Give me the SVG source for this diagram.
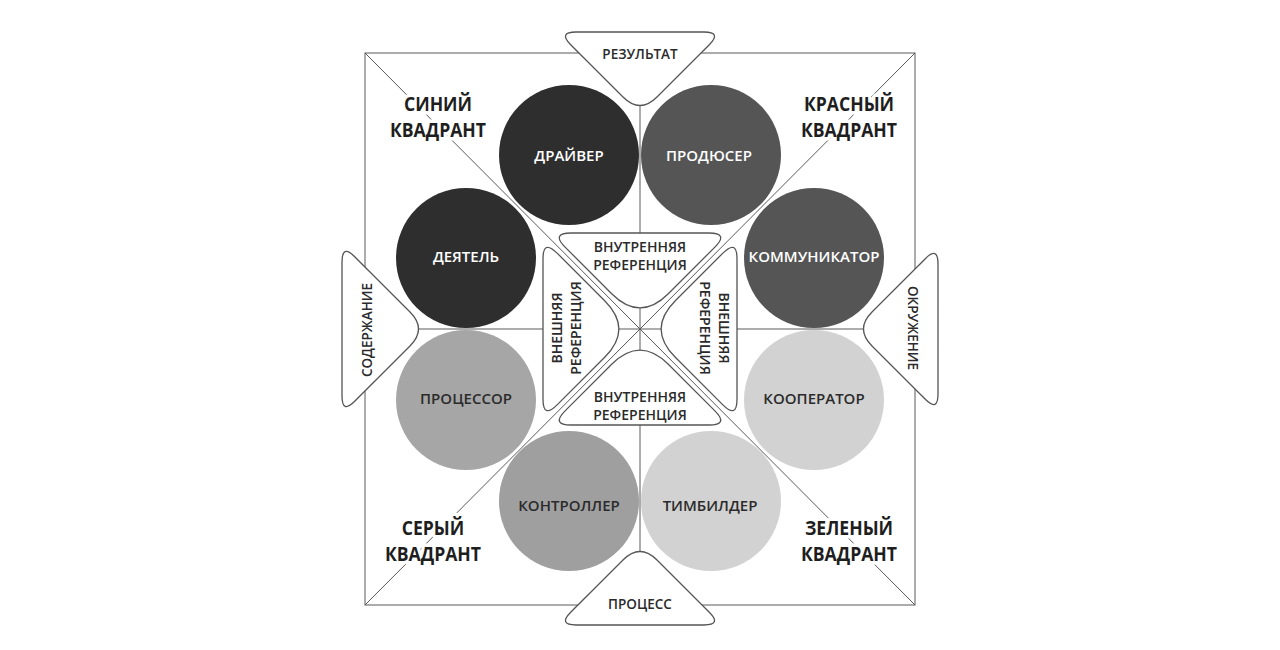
<svg xmlns="http://www.w3.org/2000/svg" width="1280" height="650" viewBox="0 0 1280 650">
<style>
.ln{stroke:#5a5a5a;stroke-width:1;fill:none}
.sh{fill:#fff;stroke:#555;stroke-width:1.3}
.t{font-family:"Open Sans","Liberation Sans",sans-serif;font-weight:600;text-anchor:middle;dominant-baseline:central;fill:#2b2b2b}
.w{fill:#fff}
.c{font-size:15px}
.s{font-size:13.5px}
.i{font-size:14px}
.q{font-family:"Open Sans","Liberation Sans",sans-serif;font-weight:700;font-size:20px;text-anchor:middle;fill:#1e1e1e;stroke:#fff;stroke-width:7;stroke-linejoin:round;paint-order:stroke}
</style>
<rect width="1280" height="650" fill="#fff"/>
<g id="connectors">
<rect class="ln" x="365" y="53" width="550" height="552"/>
<line class="ln" x1="365" y1="53" x2="915" y2="605"/>
<line class="ln" x1="915" y1="53" x2="365" y2="605"/>
<line class="ln" x1="365" y1="329" x2="915" y2="329"/>
<line class="ln" x1="640" y1="53" x2="640" y2="605"/>
</g>
<g id="blue-quadrant" transform="translate(438 0) scale(0.88 1)"><text class="q" x="0"><tspan x="0" y="111">СИНИЙ</tspan><tspan x="0" y="137">КВАДРАНТ</tspan></text></g>
<g id="red-quadrant" transform="translate(849 0) scale(0.88 1)"><text class="q" x="0"><tspan x="0" y="111">КРАСНЫЙ</tspan><tspan x="0" y="137">КВАДРАНТ</tspan></text></g>
<g id="grey-quadrant" transform="translate(433 0) scale(0.88 1)"><text class="q" x="0"><tspan x="0" y="535">СЕРЫЙ</tspan><tspan x="0" y="561">КВАДРАНТ</tspan></text></g>
<g id="green-quadrant" transform="translate(849 0) scale(0.88 1)"><text class="q" x="0"><tspan x="0" y="535">ЗЕЛЕНЫЙ</tspan><tspan x="0" y="561">КВАДРАНТ</tspan></text></g>
<g id="driver"><circle cx="569" cy="155" r="70" fill="#2e2e2e"/><text class="t c w" x="569" y="155">ДРАЙВЕР</text></g>
<g id="producer"><circle cx="711" cy="155" r="70" fill="#555"/><text class="t c w" x="709" y="155">ПРОДЮСЕР</text></g>
<g id="doer"><circle cx="466" cy="258" r="70" fill="#2e2e2e"/><text class="t c w" x="466" y="256">ДЕЯТЕЛЬ</text></g>
<g id="communicator"><circle cx="814" cy="258" r="70" fill="#555"/><text class="t c w" x="814" y="256">КОММУНИКАТОР</text></g>
<g id="processor"><circle cx="466" cy="400" r="70" fill="#a6a6a6"/><text class="t c" x="466" y="398">ПРОЦЕССОР</text></g>
<g id="cooperator"><circle cx="814" cy="400" r="70" fill="#d2d2d2"/><text class="t c" x="814" y="398">КООПЕРАТОР</text></g>
<g id="controller"><circle cx="569" cy="501" r="70" fill="#9f9f9f"/><text class="t c" x="569" y="505">КОНТРОЛЛЕР</text></g>
<g id="teambuilder"><circle cx="711" cy="501" r="70" fill="#d2d2d2"/><text class="t c" x="710" y="505">ТИМБИЛДЕР</text></g>
<g id="inner-top"><path class="sh" d="M571,233 L709,233 Q729,233 714.9,247.1 L668.3,293.7 Q640,322 611.7,293.7 L565.1,247.1 Q551,233 571,233 Z"/><text class="t i" x="640" y="246">ВНУТРЕННЯЯ</text><text class="t i" x="640" y="264">РЕФЕРЕНЦИЯ</text></g>
<g id="inner-bottom"><path class="sh" d="M571,425 L709,425 Q729,425 714.9,410.9 L668.3,364.3 Q640,336 611.7,364.3 L565.1,410.9 Q551,425 571,425 Z"/><text class="t i" x="640" y="396">ВНУТРЕННЯЯ</text><text class="t i" x="640" y="414">РЕФЕРЕНЦИЯ</text></g>
<g id="inner-left"><path class="sh" d="M543,259 L543,399 Q543,419 557.1,404.9 L604.7,357.3 Q633,329 604.7,300.7 L557.1,253.1 Q543,239 543,259 Z"/><text class="t i" transform="translate(556,328) rotate(-90)">ВНЕШНЯЯ</text><text class="t i" transform="translate(575,328) rotate(-90)">РЕФЕРЕНЦИЯ</text></g>
<g id="inner-right"><path class="sh" d="M737,259 L737,399 Q737,419 722.9,404.9 L675.3,357.3 Q647,329 675.3,300.7 L722.9,253.1 Q737,239 737,259 Z"/><text class="t i" transform="translate(724,328) rotate(90)">ВНЕШНЯЯ</text><text class="t i" transform="translate(705,328) rotate(90)">РЕФЕРЕНЦИЯ</text></g>
<g id="result"><path class="sh" d="M576,32 L704,32 Q722,32 709.3,44.7 L657,97 Q640,114 623,97 L570.7,44.7 Q558,32 576,32 Z"/><text class="t s" x="640" y="54">РЕЗУЛЬТАТ</text></g>
<g id="process"><path class="sh" d="M576,625 L704,625 Q722,625 709.3,612.3 L657,560 Q640,543 623,560 L570.7,612.3 Q558,625 576,625 Z"/><text class="t s" x="640" y="604">ПРОЦЕСС</text></g>
<g id="content"><path class="sh" d="M342,262 L342,396 Q342,414 354.7,401.3 L410,346 Q427,329 410,312 L354.7,256.7 Q342,244 342,262 Z"/><text class="t s" transform="translate(367,330) rotate(-90)">СОДЕРЖАНИЕ</text></g>
<g id="environment"><path class="sh" d="M938,264 L938,394 Q938,412 925.3,399.3 L872,346 Q855,329 872,312 L925.3,258.7 Q938,246 938,264 Z"/><text class="t s" transform="translate(913,328) rotate(90)">ОКРУЖЕНИЕ</text></g>
</svg>
